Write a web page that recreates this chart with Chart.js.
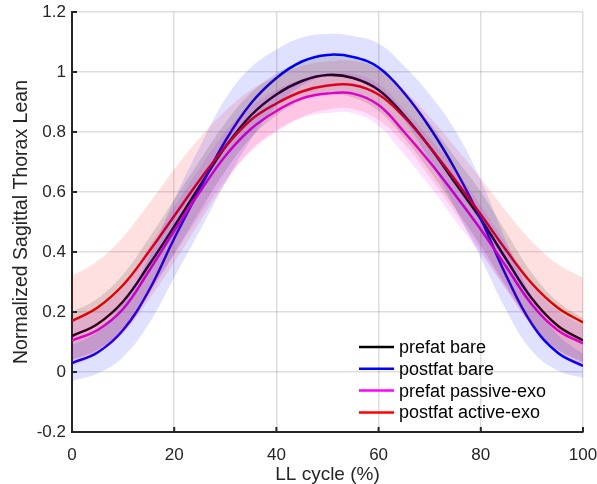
<!DOCTYPE html>
<html>
<head>
<meta charset="utf-8">
<script src="https://cdn.jsdelivr.net/npm/chart.js@4/dist/chart.umd.min.js"></script>
<style>
  html, body { margin: 0; padding: 0; background: #fff; }
  canvas { display: block; }
</style>
</head>
<body>
<canvas id="leanChart" width="597" height="484"></canvas>
<script>
// LL cycle (%) sample points
const cycle = [0, 5, 10, 15, 20, 25, 30, 35, 40, 45, 50, 55, 60, 65, 70, 75, 80, 85, 90, 95, 100];

// mean curves
const prefatBare = [0.12, 0.16, 0.235, 0.355, 0.485, 0.62, 0.75, 0.855, 0.925, 0.97, 0.99, 0.98, 0.94, 0.855, 0.75, 0.63, 0.51, 0.375, 0.245, 0.155, 0.105];
const postfatBare = [0.03, 0.065, 0.14, 0.27, 0.445, 0.61, 0.77, 0.895, 0.98, 1.035, 1.057, 1.05, 1.015, 0.93, 0.815, 0.675, 0.51, 0.32, 0.16, 0.065, 0.02];
const prefatPassive = [0.105, 0.14, 0.21, 0.335, 0.47, 0.60, 0.72, 0.81, 0.87, 0.912, 0.928, 0.928, 0.89, 0.80, 0.70, 0.59, 0.475, 0.35, 0.225, 0.14, 0.095];
const postfatActive = [0.17, 0.215, 0.29, 0.40, 0.52, 0.64, 0.75, 0.84, 0.895, 0.935, 0.955, 0.957, 0.925, 0.85, 0.75, 0.64, 0.525, 0.405, 0.295, 0.215, 0.165];

// standard deviations (shaded bands)
const prefatBareSd = [0.08, 0.085, 0.09, 0.09, 0.09, 0.085, 0.08, 0.075, 0.07, 0.065, 0.065, 0.065, 0.07, 0.075, 0.08, 0.085, 0.09, 0.09, 0.085, 0.08, 0.075];
const postfatBareSd = [0.06, 0.07, 0.09, 0.11, 0.13, 0.14, 0.14, 0.12, 0.095, 0.08, 0.07, 0.07, 0.08, 0.09, 0.11, 0.13, 0.13, 0.115, 0.09, 0.06, 0.04];
const prefatPassiveSd = [0.065, 0.07, 0.075, 0.08, 0.08, 0.08, 0.08, 0.075, 0.07, 0.065, 0.065, 0.065, 0.07, 0.075, 0.08, 0.085, 0.08, 0.075, 0.07, 0.065, 0.06];
const postfatActiveSd = [0.15, 0.155, 0.16, 0.16, 0.155, 0.14, 0.12, 0.10, 0.09, 0.085, 0.08, 0.08, 0.085, 0.09, 0.10, 0.11, 0.12, 0.13, 0.14, 0.145, 0.15];

const seriesLabels = ['prefat bare', 'postfat bare', 'prefat passive-exo', 'postfat active-exo'];
const xTicks = [0, 20, 40, 60, 80, 100];
const yTicks = [-0.2, 0, 0.2, 0.4, 0.6, 0.8, 1, 1.2];

const series = [
  { label: seriesLabels[0], mean: prefatBare, sd: prefatBareSd, color: '0,0,0' },
  { label: seriesLabels[1], mean: postfatBare, sd: postfatBareSd, color: '0,0,255' },
  { label: seriesLabels[2], mean: prefatPassive, sd: prefatPassiveSd, color: '255,0,255' },
  { label: seriesLabels[3], mean: postfatActive, sd: postfatActiveSd, color: '255,0,0' }
];

const FONT = "'Liberation Sans', Arial, Helvetica, sans-serif";
const AXIS_COLOR = '#262626';

function pts(values) {
  return cycle.map((x, i) => ({ x: x, y: values[i] }));
}

const datasets = [];
// bands drawn on top of the lines (low order = drawn last)
series.forEach(s => {
  datasets.push({
    label: '',
    data: pts(s.mean.map((m, i) => m + s.sd[i])),
    borderWidth: 0,
    pointRadius: 0,
    tension: 0.4,
    fill: '+1',
    backgroundColor: 'rgba(' + s.color + ',0.12)',
    order: 1
  });
  datasets.push({
    label: '',
    data: pts(s.mean.map((m, i) => m - s.sd[i])),
    borderWidth: 0,
    pointRadius: 0,
    tension: 0.4,
    fill: false,
    order: 1
  });
});
series.forEach((s, k) => {
  datasets.push({
    label: s.label,
    data: pts(s.mean),
    borderColor: 'rgb(' + s.color + ')',
    backgroundColor: 'rgb(' + s.color + ')',
    borderWidth: 2.5,
    pointRadius: 0,
    tension: 0.4,
    fill: false,
    order: 10 - k
  });
});

// inward tick marks + legend inside the axes
const matlabAxes = {
  id: 'matlabAxes',
  afterDraw(chart) {
    const { ctx, chartArea, scales } = chart;
    ctx.save();
    ctx.strokeStyle = AXIS_COLOR;
    ctx.lineWidth = 2;
    ctx.beginPath();
    xTicks.forEach(t => {
      const px = scales.x.getPixelForValue(t);
      ctx.moveTo(px, chartArea.bottom);
      ctx.lineTo(px, chartArea.bottom - 5);
    });
    yTicks.forEach(t => {
      const py = scales.y.getPixelForValue(t);
      ctx.moveTo(chartArea.left, py);
      ctx.lineTo(chartArea.left + 5, py);
    });
    ctx.stroke();

    // legend
    const x0 = 359, x1 = 394, tx = 399, y0 = 347, dy = 21.8;
    ctx.font = '18px ' + FONT;
    ctx.textBaseline = 'middle';
    ctx.textAlign = 'left';
    series.forEach((s, i) => {
      const y = y0 + i * dy;
      ctx.strokeStyle = 'rgb(' + s.color + ')';
      ctx.lineWidth = 2.5;
      ctx.beginPath();
      ctx.moveTo(x0, y);
      ctx.lineTo(x1, y);
      ctx.stroke();
      ctx.fillStyle = '#000';
      ctx.fillText(s.label, tx, y + 1);
    });
    ctx.restore();
  }
};

new Chart(document.getElementById('leanChart').getContext('2d'), {
  type: 'line',
  data: { datasets: datasets },
  plugins: [matlabAxes],
  options: {
    responsive: false,
    animation: false,
    devicePixelRatio: 1,
    layout: { padding: { top: 12, right: 14, left: 0, bottom: 0 } },
    plugins: {
      legend: { display: false },
      tooltip: { enabled: false }
    },
    scales: {
      x: {
        type: 'linear',
        min: 0,
        max: 100,
        afterFit: scale => {
          scale.height = 52;
          scale.paddingLeft = 0;
          scale.paddingRight = 0;
        },
        afterBuildTicks: scale => { scale.ticks = xTicks.map(v => ({ value: v })); },
        ticks: {
          color: AXIS_COLOR,
          font: { family: FONT, size: 17 },
          padding: 13,
          maxRotation: 0
        },
        grid: { color: 'rgba(0,0,0,0.13)', lineWidth: 1.5, drawTicks: false },
        border: { color: AXIS_COLOR, width: 2 },
        title: {
          display: true,
          text: 'LL cycle (%)',
          color: AXIS_COLOR,
          font: { family: FONT, size: 19, lineHeight: 1 },
          padding: { top: 0, bottom: 0 }
        }
      },
      y: {
        min: -0.2,
        max: 1.2,
        afterFit: scale => {
          scale.width = 72;
          scale.paddingTop = 0;
          scale.paddingBottom = 0;
        },
        afterBuildTicks: scale => { scale.ticks = yTicks.map(v => ({ value: v })); },
        ticks: {
          color: AXIS_COLOR,
          font: { family: FONT, size: 17 },
          padding: 6,
          callback: v => String(Number(v.toFixed(1)))
        },
        grid: { color: 'rgba(0,0,0,0.13)', lineWidth: 1.5, drawTicks: false },
        border: { color: AXIS_COLOR, width: 2 },
        title: {
          display: true,
          text: 'Normalized Sagittal Thorax Lean',
          color: AXIS_COLOR,
          font: { family: FONT, size: 19.5, lineHeight: 1 },
          padding: { top: 12, bottom: 0 }
        }
      }
    }
  }
});
</script>
</body>
</html>
